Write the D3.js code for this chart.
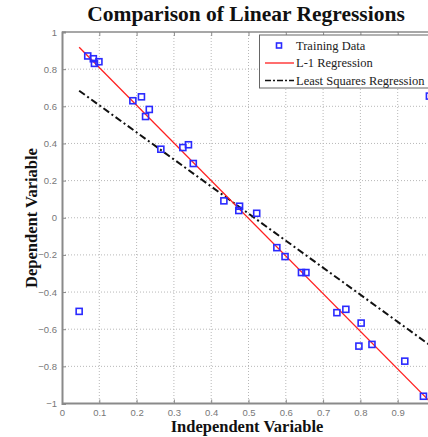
<!DOCTYPE html>
<html><head><meta charset="utf-8">
<script src="https://cdn.jsdelivr.net/npm/d3@7"></script>
<style>body{margin:0;background:#fff;overflow:hidden}svg{display:block}</style>
</head><body>
<script>
const dataX = [0.069,0.084,0.087,0.099,0.190,0.213,0.224,0.234,0.265,0.324,0.339,0.352,0.434,0.474,0.476,0.522,0.576,0.598,0.642,0.654,0.737,0.761,0.802,0.796,0.831,0.919,0.969,0.046,0.985];
const dataY = [0.871,0.856,0.831,0.840,0.630,0.651,0.545,0.583,0.369,0.378,0.393,0.292,0.091,0.039,0.062,0.024,-0.161,-0.209,-0.295,-0.295,-0.511,-0.493,-0.567,-0.691,-0.682,-0.772,-0.961,-0.504,0.655];
const fitX = [0.046, 1.0];
const l1Y = [0.918, -1.017];
const lsY = [0.684, -0.706];
const xTicks = [0,0.1,0.2,0.3,0.4,0.5,0.6,0.7,0.8,0.9];
const yTicks = [-1,-0.8,-0.6,-0.4,-0.2,0,0.2,0.4,0.6,0.8,1];
const legendLabels = ["Training Data","L-1 Regression","Least Squares Regression"];

const W=428,H=437;
const svg=d3.select("body").append("svg").attr("width",W).attr("height",H);
const x=d3.scaleLinear().domain([0,1]).range([62,435]);
const y=d3.scaleLinear().domain([-1,1]).range([403.5,32]);

// grid
const g=svg.append("g");
g.selectAll(".gx").data(xTicks.slice(1)).join("line")
 .attr("x1",d=>x(d)).attr("x2",d=>x(d)).attr("y1",y(1)).attr("y2",y(-1))
 .attr("stroke","#b8b8b8").attr("stroke-dasharray","1,2");
g.selectAll(".gy").data(yTicks.slice(1,-1)).join("line")
 .attr("y1",d=>y(d)).attr("y2",d=>y(d)).attr("x1",x(0)).attr("x2",x(1))
 .attr("stroke","#b8b8b8").attr("stroke-dasharray","1,2");

// axes
const xa=svg.append("g").attr("transform",`translate(0,${y(-1)})`)
 .call(d3.axisBottom(x).tickValues(xTicks).tickSize(-4).tickPadding(6).tickFormat(d3.format("~g")));
const xt=svg.append("g").attr("transform",`translate(0,${y(1)})`)
 .call(d3.axisTop(x).tickValues(xTicks).tickSize(-4).tickFormat(""));
const ya=svg.append("g").attr("transform",`translate(${x(0)},0)`)
 .call(d3.axisLeft(y).tickValues(yTicks).tickSize(-4).tickPadding(5).tickFormat(d3.format("~g")));
[xa,xt,ya].forEach(a=>{
  a.select(".domain").attr("stroke","#8a8a8a").attr("stroke-width",2);
  a.selectAll(".tick line").attr("stroke","#8a8a8a");
  a.selectAll("text").attr("fill","#777").attr("font-family","Liberation Sans, Arial").attr("font-size",9.5);
});
xa.select(".domain").attr("d",`M${x(0)},0H${W+10}`);
xt.select(".domain").attr("stroke-width",1.5).attr("d",`M${x(0)},0H${W+10}`);

// lines
const line=d3.line().x(d=>x(d[0])).y(d=>y(d[1]));
svg.append("path").datum(fitX.map((v,i)=>[v,lsY[i]])).attr("d",line)
 .attr("fill","none").attr("stroke","#111").attr("stroke-width",2).attr("stroke-dasharray","7,3,2,3");
svg.append("path").datum(fitX.map((v,i)=>[v,l1Y[i]])).attr("d",line)
 .attr("fill","none").attr("stroke","#ff2020").attr("stroke-width",1.3);

// points
svg.selectAll(".pt").data(dataX.map((v,i)=>[v,dataY[i]])).join("rect")
 .attr("x",d=>x(d[0])-3).attr("y",d=>y(d[1])-3).attr("width",6).attr("height",6)
 .attr("fill","none").attr("stroke","#2a2aff").attr("stroke-width",1.6);

// legend
const lg=svg.append("g");
lg.append("rect").attr("x",259.5).attr("y",35).attr("width",180).attr("height",53)
 .attr("fill","#fff").attr("stroke","#666").attr("stroke-width",1);
const ly=[45.5,63,80.5];
lg.append("rect").attr("x",276.5).attr("y",ly[0]-2.5).attr("width",5).attr("height",5)
 .attr("fill","none").attr("stroke","#2a2aff").attr("stroke-width",1.6);
lg.append("line").attr("x1",265).attr("x2",294).attr("y1",ly[1]).attr("y2",ly[1]).attr("stroke","#ff2020").attr("stroke-width",1.3);
lg.append("line").attr("x1",265).attr("x2",294).attr("y1",ly[2]).attr("y2",ly[2]).attr("stroke","#111").attr("stroke-width",1.5).attr("stroke-dasharray","6,2,2,2");
lg.selectAll(".lt").data(legendLabels).join("text")
 .attr("x",296).attr("y",(d,i)=>ly[i]+4).text(d=>d)
 .attr("font-family","Liberation Serif, serif").attr("font-size",12.5).attr("fill","#222");

// titles
svg.append("text").attr("x",246).attr("y",21).attr("text-anchor","middle")
 .attr("font-family","Liberation Serif, serif").attr("font-weight","bold").attr("font-size",21.5).attr("fill","#111")
 .text("Comparison of Linear Regressions");
svg.append("text").attr("x",247).attr("y",432).attr("text-anchor","middle")
 .attr("font-family","Liberation Serif, serif").attr("font-weight","bold").attr("font-size",16.5).attr("fill","#111")
 .text("Independent Variable");
svg.append("text").attr("transform",`translate(37,218) rotate(-90)`).attr("text-anchor","middle")
 .attr("font-family","Liberation Serif, serif").attr("font-weight","bold").attr("font-size",16.5).attr("fill","#111")
 .text("Dependent Variable");
</script>
</body></html>
